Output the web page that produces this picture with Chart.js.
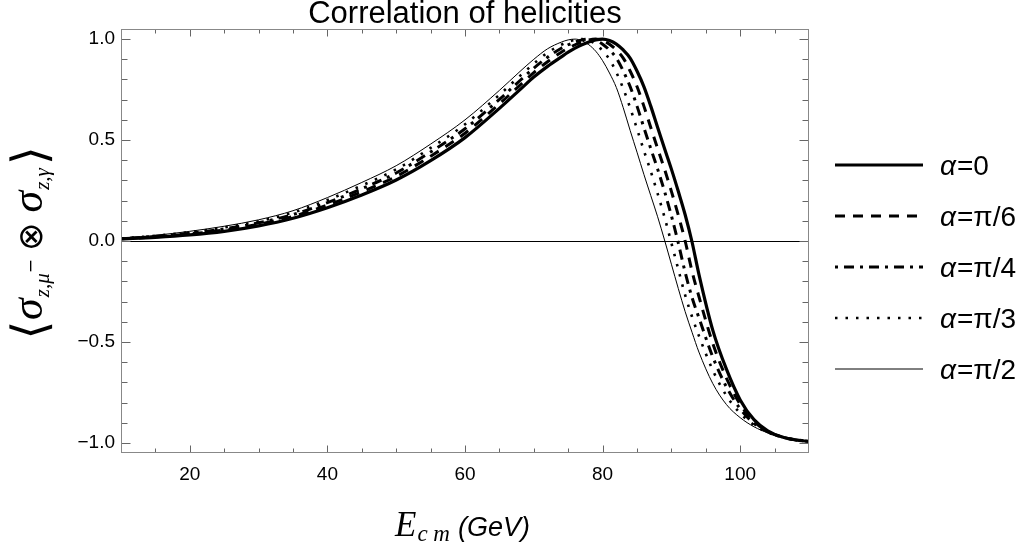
<!DOCTYPE html>
<html><head><meta charset="utf-8">
<script src="https://cdn.jsdelivr.net/npm/chart.js@4.4.1/dist/chart.umd.min.js"></script>
<style>html,body{margin:0;padding:0;background:#fff;}#wrap{width:1030px;height:550px;}</style>
</head><body><div id="wrap"><canvas id="c" width="1030" height="550"></canvas></div>
<script>
// ---- data ----
const energy = [10,15,20,25,30,35,40,45,50,55,60,65,68,70,72,74,75,76,77,78,79,80,81,82,83,84,85,86,87,88,89,90,91,92,93,94,96,98,100,102,104,106,108,110];
const alpha0   = [.010,.018,.030,.048,.075,.113,.165,.228,.302,.398,.512,.657,.750,.812,.865,.912,.935,.955,.972,.986,.996,1.000,.993,.975,.946,.906,.842,.765,.668,.562,.458,.356,.246,.130,-.005,-.165,-.440,-.635,-.787,-.885,-.940,-.970,-.985,-.993];
const alphaPi6 = [.011,.020,.035,.054,.083,.122,.178,.244,.320,.420,.534,.679,.772,.834,.888,.935,.955,.972,.986,.996,1.000,.993,.975,.946,.906,.842,.765,.668,.562,.458,.356,.246,.128,.000,-.150,-.275,-.506,-.679,-.809,-.894,-.943,-.970,-.985,-.992];
const alphaPi4 = [.011,.023,.039,.060,.090,.131,.190,.259,.337,.441,.556,.701,.795,.856,.910,.955,.972,.986,.996,1.000,.993,.975,.946,.906,.842,.765,.668,.562,.458,.356,.246,.125,-.010,-.155,-.280,-.380,-.573,-.723,-.831,-.903,-.945,-.970,-.984,-.992];
const alphaPi3 = [.012,.026,.044,.067,.098,.141,.203,.275,.355,.461,.578,.724,.818,.878,.933,.972,.986,.996,1.000,.993,.975,.942,.900,.835,.755,.660,.555,.448,.345,.235,.118,-.010,-.140,-.268,-.375,-.470,-.639,-.766,-.853,-.911,-.948,-.970,-.984,-.991];
const alphaPi2 = [.012,.028,.048,.073,.105,.150,.215,.290,.373,.480,.600,.746,.840,.900,.952,.985,.996,1.000,.992,.972,.940,.893,.832,.760,.660,.548,.440,.330,.225,.120,.005,-.115,-.235,-.350,-.452,-.550,-.705,-.810,-.875,-.920,-.950,-.970,-.983,-.990];
const seriesLabels = ['α=0','α=π/6','α=π/4','α=π/3','α=π/2'];
const xMajorTicks = [20,40,60,80,100];
const xMinorTicks = [15,25,30,35,45,50,55,65,70,75,85,90,95,105];
const yMajorTicks = [-1,-0.5,0,0.5,1];
const yTickLabels = ['−1.0','−0.5','0.0','0.5','1.0'];
const yMinorTicks = [-0.9,-0.8,-0.7,-0.6,-0.4,-0.3,-0.2,-0.1,0.1,0.2,0.3,0.4,0.6,0.7,0.8,0.9];
const titleText = 'Correlation of helicities';

const styles = [
  {borderWidth:3.2, borderDash:[]},
  {borderWidth:3, borderDash:[10,8]},
  {borderWidth:3, borderDash:[3,6,10,6]},
  {borderWidth:2.6, borderDash:[2.5,8]},
  {borderWidth:1, borderDash:[]}
];
const seriesValues = [alpha0, alphaPi6, alphaPi4, alphaPi3, alphaPi2];
const datasets = seriesValues.map((vals,i)=>({
  label: seriesLabels[i],
  data: energy.map((e,j)=>({x:e,y:vals[j]})),
  borderColor:'#000',
  borderWidth: styles[i].borderWidth,
  borderDash: styles[i].borderDash,
  borderCapStyle:'butt',
  pointRadius:0,
  fill:false,
  tension:0.4,
  cubicInterpolationMode:'monotone'
}));

const decor = {
  id:'decor',
  beforeDatasetsDraw(chart){
    const ctx=chart.ctx, a=chart.chartArea, y=chart.scales.y;
    const py=Math.round(y.getPixelForValue(0))+0.5;
    ctx.save(); ctx.strokeStyle='#000'; ctx.lineWidth=1;
    ctx.beginPath(); ctx.moveTo(a.left,py); ctx.lineTo(a.right,py); ctx.stroke(); ctx.restore();
  },
  afterDatasetsDraw(chart){
    const ctx=chart.ctx, a=chart.chartArea, xs=chart.scales.x, ys=chart.scales.y;
    ctx.save();
    ctx.strokeStyle='#666'; ctx.lineWidth=1;
    const L=a.left+0.5, R=a.right-0.5, T=a.top+0.5, B=a.bottom-0.5;
    ctx.beginPath();
    const xt=(v,len)=>{const p=Math.round(xs.getPixelForValue(v))+0.5; ctx.moveTo(p,B); ctx.lineTo(p,B-len); ctx.moveTo(p,T); ctx.lineTo(p,T+len);};
    const yt=(v,len)=>{const p=Math.round(ys.getPixelForValue(v))+0.5; ctx.moveTo(L,p); ctx.lineTo(L+len,p); ctx.moveTo(R,p); ctx.lineTo(R-len,p);};
    xMajorTicks.forEach(v=>xt(v,7)); xMinorTicks.forEach(v=>xt(v,4));
    yMajorTicks.forEach(v=>yt(v,9)); yMinorTicks.forEach(v=>yt(v,6));
    ctx.stroke();
    ctx.strokeStyle='#888';
    ctx.strokeRect(L,T,R-L,B-T);
    ctx.restore();
  },
  afterDraw(chart){
    const ctx=chart.ctx, a=chart.chartArea;
    ctx.save();
    ctx.fillStyle='#000';
    // title
    ctx.font='31px "Liberation Sans"'; ctx.textAlign='center'; ctx.textBaseline='alphabetic';
    ctx.fillText(titleText,(a.left+a.right)/2,23);
    // x label
    ctx.textAlign='left';
    ctx.font='italic 35px "Liberation Serif"'; ctx.fillText('E',395,536);
    let w=ctx.measureText('E').width;
    ctx.font='italic 23px "Liberation Serif"'; ctx.fillText('c m',395+w+1,541);
    ctx.font='italic 27px "Liberation Sans"'; ctx.fillText('(GeV)',458,536);
    // y label (rotated)
    const parts=[];
    const measure=(txt,font)=>{ctx.font=font; return ctx.measureText(txt);};
    const fB='48px "DejaVu Sans"', fS='italic 44px "Liberation Serif"', fSub='italic 21px "Liberation Serif"', fSup='17px "DejaVu Sans"', fO='34px "DejaVu Sans"';
    let t=0;
    const mB=measure('⟨',fB);
    parts.push({txt:'⟨',font:fB,t:t,u:-11.5-(mB.actualBoundingBoxDescent-mB.actualBoundingBoxAscent)/2}); t+=mB.width+1;
    let m=measure('σ',fS); parts.push({txt:'σ',font:fS,t:t,u:0}); t+=m.width+1;
    m=measure('z,μ',fSub); parts.push({txt:'z,μ',font:fSub,t:t,u:7}); t+=m.width;
    m=measure('−',fSup); parts.push({txt:'−',font:fSup,t:t,u:-6}); t+=m.width+8;
    const mO=measure('⊗',fO);
    parts.push({txt:'⊗',font:fO,t:t,u:-11-(mO.actualBoundingBoxDescent-mO.actualBoundingBoxAscent)/2}); t+=mO.width+10;
    m=measure('σ',fS); parts.push({txt:'σ',font:fS,t:t,u:0}); t+=m.width+1;
    m=measure('z,γ',fSub); parts.push({txt:'z,γ',font:fSub,t:t,u:7}); t+=m.width+3;
    const mE=measure('⟩',fB);
    parts.push({txt:'⟩',font:fB,t:t,u:-11.5-(mE.actualBoundingBoxDescent-mE.actualBoundingBoxAscent)/2}); t+=mE.width;
    ctx.save();
    ctx.translate(42,243+t/2); ctx.rotate(-Math.PI/2);
    parts.forEach(p=>{ctx.font=p.font; ctx.fillText(p.txt,p.t,p.u);});
    ctx.restore();
    // legend
    chart.data.datasets.forEach((ds,i)=>{
      const y=165+51*i;
      ctx.save();
      ctx.strokeStyle=ds.borderColor; ctx.lineWidth=ds.borderWidth; ctx.setLineDash(ds.borderDash); ctx.lineCap='butt';
      ctx.beginPath(); ctx.moveTo(835,y); ctx.lineTo(923,y); ctx.stroke();
      ctx.restore();
      const lab=ds.label;
      ctx.font='italic 28px "Liberation Sans"'; ctx.fillText(lab[0],940,y+10);
      const aw=ctx.measureText(lab[0]).width;
      ctx.font='28px "Liberation Sans"'; ctx.fillText(lab.slice(1),940+aw+1,y+10);
    });
    ctx.restore();
  }
};

new Chart(document.getElementById('c'),{
  type:'line',
  data:{datasets},
  options:{
    responsive:false, animation:false, devicePixelRatio:1,
    layout:{padding:{left:0,right:221,top:29,bottom:0}},
    plugins:{legend:{display:false},tooltip:{enabled:false},title:{display:false}},
    scales:{
      x:{type:'linear',min:10,max:110,
        afterBuildTicks:s=>{s.ticks=xMajorTicks.map(v=>({value:v}));},
        afterFit:s=>{s.height=97;},
        grid:{display:false,drawTicks:false},border:{display:false},
        ticks:{color:'#000',font:{family:'Liberation Sans',size:19},padding:10,maxRotation:0,autoSkip:false}},
      y:{type:'linear',min:-1.05,max:1.05,
        afterBuildTicks:s=>{s.ticks=yMajorTicks.map(v=>({value:v}));},
        afterFit:s=>{s.width=121;},
        grid:{display:false,drawTicks:false},border:{display:false},
        ticks:{color:'#000',font:{family:'Liberation Sans',size:19},padding:6,autoSkip:false,
          callback:(v)=>yTickLabels[yMajorTicks.indexOf(v)]}}
    }
  },
  plugins:[decor]
});
</script></body></html>
